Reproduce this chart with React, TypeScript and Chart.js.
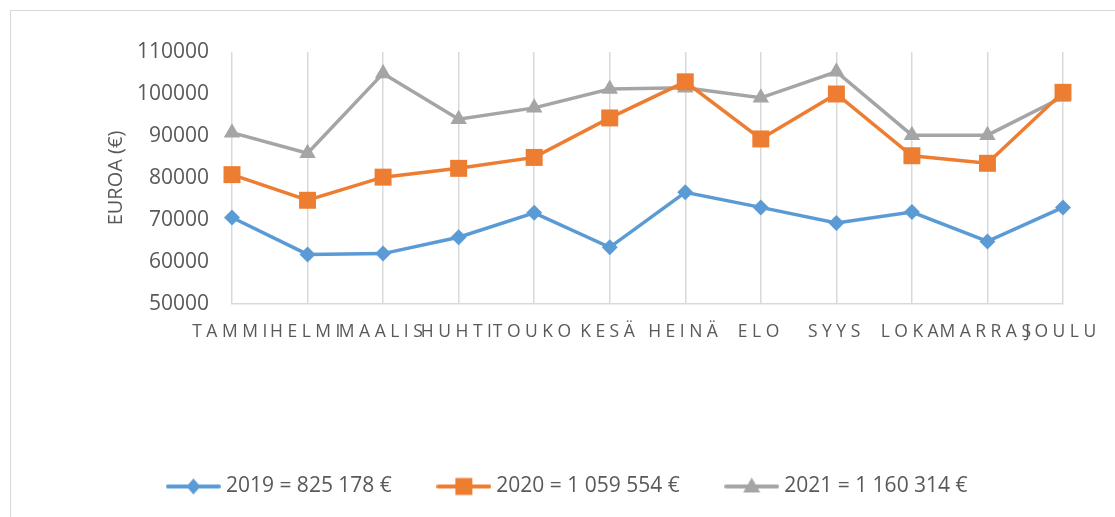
import React, { useEffect, useRef } from "react";
import { Chart, registerables } from "chart.js";

Chart.register(...registerables);

const months = ["TAMMI", "HELMI", "MAALIS", "HUHTI", "TOUKO", "KESÄ", "HEINÄ", "ELO", "SYYS", "LOKA", "MARRAS", "JOULU"];
const values2019 = [70600, 61800, 62000, 65900, 71700, 63500, 76600, 73000, 69300, 71900, 64900, 73000];
const values2020 = [80800, 74700, 80200, 82300, 84900, 94300, 102900, 89300, 100000, 85300, 83500, 100400];
const values2021 = [90800, 85900, 104900, 94000, 96700, 101200, 101500, 99100, 105300, 90200, 90200, 99300];
const seriesLabels = ["2019 = 825 178 €", "2020 = 1 059 554 €", "2021 = 1 160 314 €"];
const yTitle = "EUROA (€)";
const yMin = 50000;
const yMax = 110000;
const yStep = 10000;

const BLUE = "#5B9BD5";
const ORANGE = "#ED7D31";
const GREY = "#A5A5A5";
const TEXT = "#595959";
const FONT = "'Open Sans', 'Liberation Sans', sans-serif";

function legendImage(color: string, shape: string): HTMLCanvasElement {
  const c = document.createElement("canvas");
  c.width = 55;
  c.height = 22;
  const g = c.getContext("2d")!;
  g.strokeStyle = color;
  g.fillStyle = color;
  g.lineWidth = 4;
  g.lineCap = "round";
  g.beginPath();
  g.moveTo(2, 11);
  g.lineTo(53, 11);
  g.stroke();
  const cx = 27.5, cy = 11;
  g.beginPath();
  if (shape === "diamond") {
    g.moveTo(cx, cy - 8);
    g.lineTo(cx + 7, cy);
    g.lineTo(cx, cy + 8);
    g.lineTo(cx - 7, cy);
  } else if (shape === "square") {
    g.rect(cx - 8.5, cy - 8.5, 17, 17);
  } else {
    g.moveTo(cx, cy - 9);
    g.lineTo(cx + 8.5, cy + 6);
    g.lineTo(cx - 8.5, cy + 6);
  }
  g.closePath();
  g.fill();
  return c;
}

const tweaksPlugin = {
  id: "tweaks",
  afterLayout(chart: any) {
    const lg = chart.legend;
    if (lg) {
      lg.left += 33;
      lg.right += 33;
    }
  },
  beforeDraw(chart: any) {
    const s: any = chart.scales.x;
    if (s && !s.__patched) {
      const orig = s.drawLabels.bind(s);
      s.drawLabels = (area: any) => {
        const ctx: any = chart.ctx;
        ctx.save();
        ctx.letterSpacing = "4.5px";
        orig(area);
        ctx.restore();
      };
      s.__patched = true;
    }
  },
};

export default function App() {
  const ref = useRef<HTMLCanvasElement | null>(null);

  useEffect(() => {
    if (!ref.current) return;
    const images = [
      legendImage(BLUE, "diamond"),
      legendImage(ORANGE, "square"),
      legendImage(GREY, "triangle"),
    ];
    const chart = new Chart(ref.current, {
      type: "line",
      data: {
        labels: months,
        datasets: [
          {
            label: seriesLabels[0],
            data: values2019,
            borderColor: BLUE,
            backgroundColor: BLUE,
            borderWidth: 3.5,
            pointStyle: "rectRot",
            pointRadius: 8,
            pointBorderWidth: 0,
            pointBackgroundColor: BLUE,
            tension: 0,
          },
          {
            label: seriesLabels[1],
            data: values2020,
            borderColor: ORANGE,
            backgroundColor: ORANGE,
            borderWidth: 3.5,
            pointStyle: "rect",
            pointRadius: 12,
            pointBorderWidth: 0,
            pointBackgroundColor: ORANGE,
            tension: 0,
          },
          {
            label: seriesLabels[2],
            data: values2021,
            borderColor: GREY,
            backgroundColor: GREY,
            borderWidth: 3.5,
            pointStyle: "triangle",
            pointRadius: 9.5,
            pointBorderWidth: 0,
            pointBackgroundColor: GREY,
            tension: 0,
          },
        ],
      },
      options: {
        responsive: false,
        maintainAspectRatio: false,
        animation: false,
        layout: { padding: { left: 10, right: 52, top: 52, bottom: 10 } },
        plugins: {
          tooltip: { enabled: false },
          legend: {
            position: "bottom",
            labels: {
              usePointStyle: true,
              pointStyleWidth: 44,
              padding: 50,
              color: TEXT,
              font: { family: FONT, size: 21 },
              generateLabels: (ch: any) => {
                const items = (Chart.defaults.plugins.legend.labels as any).generateLabels(ch);
                return items.map((it: any, i: number) => ({ ...it, pointStyle: images[i] }));
              },
            },
          },
        },
        scales: {
          x: {
            type: "category",
            offset: false,
            grid: { color: "#d9d9d9", lineWidth: 1.5, drawTicks: false },
            border: { display: true, color: "#d9d9d9", width: 1.5 },
            ticks: {
              color: TEXT,
              font: { family: FONT, size: 17.5 },
              padding: 18,
              maxRotation: 0,
              autoSkip: false,
            },
            afterFit: (scale: any) => {
              scale.height = 122;
            },
          },
          y: {
            min: yMin,
            max: yMax,
            grid: { display: false, drawTicks: false },
            border: { display: false },
            ticks: {
              stepSize: yStep,
              color: TEXT,
              font: { family: FONT, size: 21 },
              padding: 23,
              callback: (v: any) => String(v),
            },
            title: {
              display: true,
              text: yTitle,
              color: TEXT,
              font: { family: FONT, size: 20 },
              padding: { top: 94, bottom: 0 },
            },
            afterFit: (scale: any) => {
              scale.width = 222;
            },
          },
        },
      },
      plugins: [tweaksPlugin],
    } as any);
    chart.draw();
    return () => chart.destroy();
  }, []);

  return (
    <div style={{ position: "absolute", left: 0, top: 0, width: 1115, height: 517, overflow: "hidden", background: "#fff" }}>
      <div
        style={{
          position: "absolute",
          left: 10,
          top: 10,
          width: 1200,
          height: 600,
          borderLeft: "1.5px solid #d9d9d9",
          borderTop: "1.5px solid #d9d9d9",
        }}
      />
      <canvas ref={ref} width={1115} height={517} style={{ position: "absolute", left: 0, top: 0, width: 1115, height: 517 }} />
    </div>
  );
}
